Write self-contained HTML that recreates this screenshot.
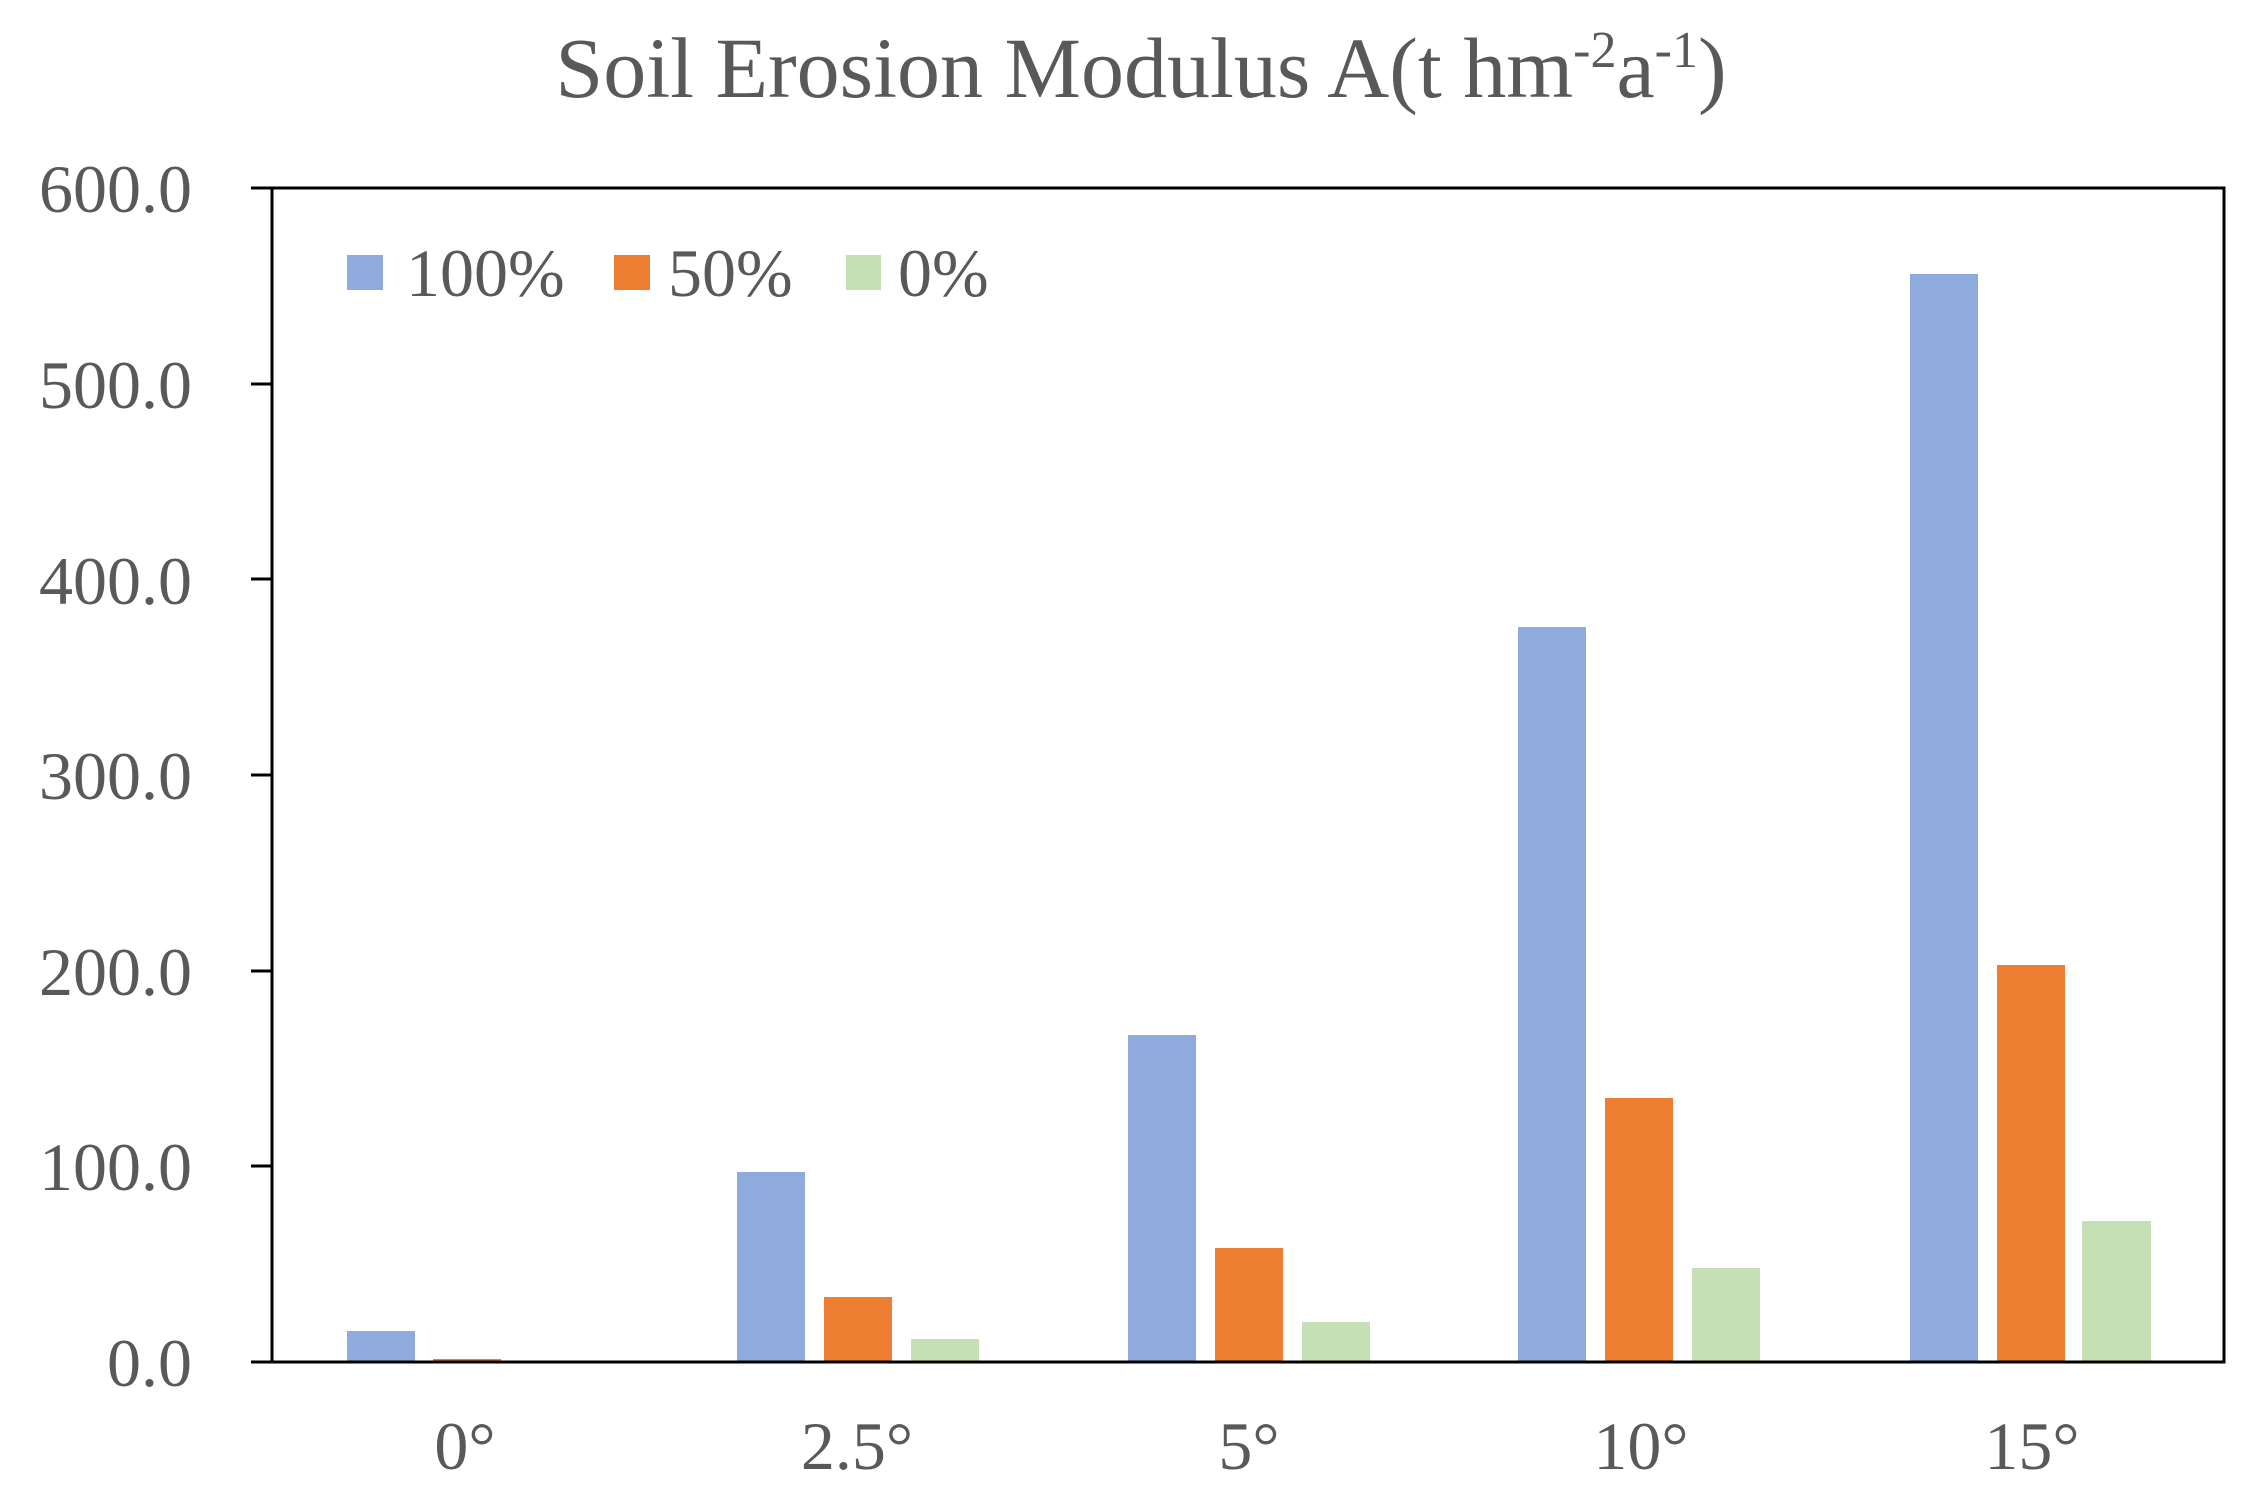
<!DOCTYPE html>
<html><head><meta charset="utf-8"><style>
html,body{margin:0;padding:0;background:#fff;}
svg{display:block;}
text{font-family:"Liberation Serif",serif;fill:#595959;}
</style></head><body>
<svg width="2241" height="1492" viewBox="0 0 2241 1492" xmlns="http://www.w3.org/2000/svg">
<rect width="2241" height="1492" fill="#fff"/>
<text x="1141" y="97" font-size="86" text-anchor="middle">Soil Erosion Modulus A(t hm<tspan font-size="52" dy="-30">-2</tspan><tspan dy="30">a</tspan><tspan font-size="52" dy="-30">-1</tspan><tspan dy="30">)</tspan></text>
<g font-size="68" text-anchor="end">
<text x="192" y="212">600.0</text>
<text x="192" y="408">500.0</text>
<text x="192" y="604">400.0</text>
<text x="192" y="799">300.0</text>
<text x="192" y="995">200.0</text>
<text x="192" y="1190">100.0</text>
<text x="192" y="1386">0.0</text>
</g>
<g>
<!-- bars: zero 1362, 1.957 px/unit -->
<rect x="347" y="1331" width="68" height="31" fill="#8FAADC"/>
<rect x="433" y="1359" width="68" height="3" fill="#ED7D31"/>
<rect x="737" y="1172" width="68" height="190" fill="#8FAADC"/>
<rect x="824" y="1297" width="68" height="65" fill="#ED7D31"/>
<rect x="911" y="1339" width="68" height="23" fill="#C5E0B4"/>
<rect x="1128" y="1035" width="68" height="327" fill="#8FAADC"/>
<rect x="1215" y="1248" width="68" height="114" fill="#ED7D31"/>
<rect x="1302" y="1322" width="68" height="40" fill="#C5E0B4"/>
<rect x="1518" y="627" width="68" height="735" fill="#8FAADC"/>
<rect x="1605" y="1098" width="68" height="264" fill="#ED7D31"/>
<rect x="1692" y="1268" width="68" height="94" fill="#C5E0B4"/>
<rect x="1910" y="274" width="68" height="1088" fill="#8FAADC"/>
<rect x="1997" y="965" width="68" height="397" fill="#ED7D31"/>
<rect x="2082" y="1221" width="69" height="141" fill="#C5E0B4"/>
</g>
<g stroke="#000" stroke-width="3" fill="none">
<rect x="272" y="188" width="1952" height="1174"/>
<line x1="251" y1="188" x2="272" y2="188"/>
<line x1="251" y1="384" x2="272" y2="384"/>
<line x1="251" y1="579" x2="272" y2="579"/>
<line x1="251" y1="775" x2="272" y2="775"/>
<line x1="251" y1="971" x2="272" y2="971"/>
<line x1="251" y1="1166" x2="272" y2="1166"/>
<line x1="251" y1="1362" x2="272" y2="1362"/>
</g>
<g font-size="68" text-anchor="middle">
<text x="465" y="1469">0°</text>
<text x="857" y="1469">2.5°</text>
<text x="1249" y="1469">5°</text>
<text x="1641" y="1469">10°</text>
<text x="2032" y="1469">15°</text>
</g>
<rect x="347" y="255" width="36" height="35" fill="#8FAADC"/>
<text x="406" y="296" font-size="68">100%</text>
<rect x="614" y="255" width="36" height="35" fill="#ED7D31"/>
<text x="668" y="296" font-size="68">50%</text>
<rect x="846" y="255" width="35" height="35" fill="#C5E0B4"/>
<text x="898" y="296" font-size="68">0%</text>
</svg>
</body></html>
